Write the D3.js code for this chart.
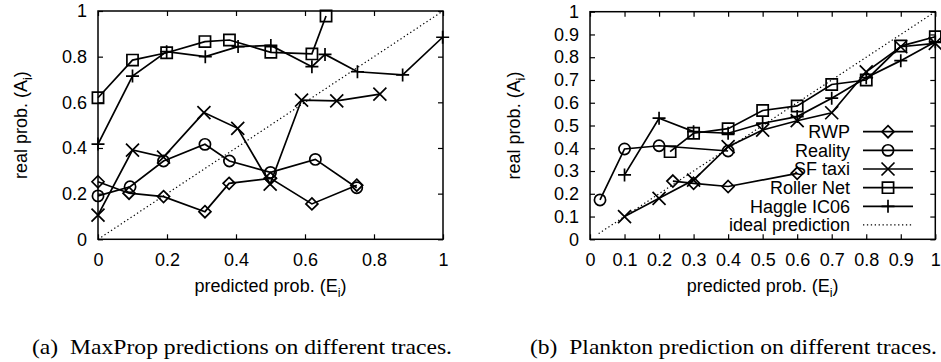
<!DOCTYPE html>
<html><head><meta charset="utf-8">
<script src="https://cdn.jsdelivr.net/npm/d3@7"></script>
<style>body{margin:0;background:#fff} svg{display:block}</style>
</head><body><svg id="c" width="941" height="362"></svg>
<script>
// ---------- data ----------
const seriesNames = ["RWP", "Reality", "SF taxi", "Roller Net", "Haggle IC06"];
const markerTypes = ["diamond", "circle", "cross", "square", "plus"];
const idealLabel = "ideal prediction";

// (a) MaxProp
const maxpropRWP_x     = [0, 0.09, 0.19, 0.31, 0.38, 0.50, 0.62, 0.75];
const maxpropRWP_y     = [0.252, 0.202, 0.187, 0.121, 0.245, 0.267, 0.155, 0.237];
const maxpropReality_x = [0, 0.093, 0.19, 0.31, 0.381, 0.50, 0.63, 0.75];
const maxpropReality_y = [0.19, 0.23, 0.343, 0.416, 0.343, 0.293, 0.35, 0.226];
const maxpropTaxi_x    = [0, 0.10, 0.19, 0.307, 0.405, 0.499, 0.59, 0.692, 0.817];
const maxpropTaxi_y    = [0.106, 0.391, 0.36, 0.555, 0.486, 0.242, 0.61, 0.606, 0.636];
const maxpropRoller_x  = [0, 0.10, 0.199, 0.31, 0.381, 0.501, 0.62, 0.661];
const maxpropRoller_y  = [0.62, 0.785, 0.817, 0.866, 0.873, 0.819, 0.812, 0.978];
const maxpropHaggle_x  = [0, 0.10, 0.199, 0.311, 0.406, 0.501, 0.62, 0.658, 0.752, 0.883, 0.999];
const maxpropHaggle_y  = [0.417, 0.715, 0.822, 0.80, 0.844, 0.849, 0.756, 0.81, 0.734, 0.72, 0.885];
const maxpropIdeal     = [0, 1];

// (b) Plankton
const planktonRWP_x     = [0.24, 0.30, 0.40, 0.60];
const planktonRWP_y     = [0.256, 0.246, 0.232, 0.29];
const planktonReality_x = [0.029, 0.10, 0.20, 0.40];
const planktonReality_y = [0.173, 0.397, 0.411, 0.388];
const planktonTaxi_x    = [0.10, 0.20, 0.30, 0.40, 0.50, 0.60, 0.70, 0.80, 0.90, 1.0];
const planktonTaxi_y    = [0.10, 0.18, 0.26, 0.407, 0.48, 0.521, 0.556, 0.736, 0.846, 0.861];
const planktonRoller_x  = [0.232, 0.30, 0.40, 0.50, 0.60, 0.70, 0.80, 0.90, 1.0];
const planktonRoller_y  = [0.385, 0.466, 0.486, 0.566, 0.586, 0.68, 0.70, 0.849, 0.89];
const planktonHaggle_x  = [0.10, 0.20, 0.30, 0.40, 0.50, 0.60, 0.70, 0.80, 0.90, 1.0];
const planktonHaggle_y  = [0.283, 0.532, 0.473, 0.466, 0.51, 0.539, 0.62, 0.71, 0.785, 0.868];
const planktonIdeal     = [0.025, 1];

// ticks
const maxpropTicks  = [0, 0.2, 0.4, 0.6, 0.8, 1];
const planktonTicks = [0, 0.1, 0.2, 0.3, 0.4, 0.5, 0.6, 0.7, 0.8, 0.9, 1];

const captionA = "(a)\u00a0\u00a0MaxProp predictions on different traces.";
const captionB = "(b)\u00a0\u00a0Plankton prediction on different traces.";
const xLabel = "predicted prob. (E";
const yLabel = "real prob. (A";

// ---------- drawing ----------
const svg = d3.select("#c");
const FONT = "'Liberation Sans', Arial, sans-serif";
const FS = 18;

function markerPath(type, s) {
  switch (type) {
    case "diamond": return `M0,${-s}L${s},0L0,${s}L${-s},0Z`;
    case "circle":  return `M${s},0A${s},${s} 0 1,1 ${-s},0A${s},${s} 0 1,1 ${s},0Z`;
    case "square":  return `M${-s},${-s}H${s}V${s}H${-s}Z`;
    case "cross":   return `M${-s},${-s}L${s},${s}M${-s},${s}L${s},${-s}`;
    case "plus":    return `M${-s},0H${s}M0,${-s}V${s}`;
  }
}
const markerSize = {diamond: 6, circle: 5.6, square: 5.6, cross: 6.5, plus: 6.5};
const SW = 1.7;

function panel(cfg) {
  const x = d3.scaleLinear().domain([0, 1]).range([cfg.x0, cfg.x1]);
  const y = d3.scaleLinear().domain([0, 1]).range([cfg.y0, cfg.y1]);
  const g = svg.append("g");
  const fmt = d => d3.format("")(d);

  // axes (inward ticks)
  const ax = g.append("g").attr("transform", `translate(0,${cfg.y0})`)
    .call(d3.axisBottom(x).tickValues(cfg.ticks).tickFormat(fmt).tickSizeInner(-5).tickSizeOuter(0).tickPadding(14));
  const ay = g.append("g").attr("transform", `translate(${cfg.x0},0)`)
    .call(d3.axisLeft(y).tickValues(cfg.ticks).tickFormat(fmt).tickSizeInner(-5).tickSizeOuter(0).tickPadding(11));
  const at = g.append("g").attr("transform", `translate(0,${cfg.y1})`)
    .call(d3.axisTop(x).tickValues(cfg.ticks).tickFormat("").tickSizeInner(-5).tickSizeOuter(0));
  const ar = g.append("g").attr("transform", `translate(${cfg.x1},0)`)
    .call(d3.axisRight(y).tickValues(cfg.ticks).tickFormat("").tickSizeInner(-5).tickSizeOuter(0));
  [ax, ay, at, ar].forEach(a => {
    a.select(".domain").remove();
    a.selectAll("line").attr("stroke", "#000").attr("stroke-width", 1.2);
    a.selectAll("text").attr("font-family", FONT).attr("font-size", FS).attr("fill", "#000");
  });
  // frame
  g.append("rect").attr("x", cfg.x0).attr("y", cfg.y1)
    .attr("width", cfg.x1 - cfg.x0).attr("height", cfg.y0 - cfg.y1)
    .attr("fill", "none").attr("stroke", "#000").attr("stroke-width", 1.5);

  // ideal
  g.append("path").attr("d", d3.line()(cfg.ideal.map(v => [x(v), y(v)])))
    .attr("stroke", "#000").attr("stroke-width", 1.2).attr("stroke-dasharray", "1.3,2.6").attr("fill", "none");

  // series
  cfg.series.forEach((s, i) => {
    const pts = s.x.map((v, k) => [x(v), y(s.y[k])]);
    g.append("path").attr("d", d3.line()(pts)).attr("fill", "none")
      .attr("stroke", "#000").attr("stroke-width", SW);
    const t = markerTypes[i];
    g.selectAll(null).data(pts).enter().append("path")
      .attr("transform", d => `translate(${d[0]},${d[1]})`)
      .attr("d", markerPath(t, markerSize[t]))
      .attr("fill", "none").attr("stroke", "#000").attr("stroke-width", SW);
  });

  // labels
  const xl = g.append("text").attr("x", (cfg.x0 + cfg.x1) / 2).attr("y", 292)
    .attr("text-anchor", "middle").attr("font-family", FONT).attr("font-size", FS);
  xl.append("tspan").text(xLabel);
  xl.append("tspan").attr("font-size", 12.5).attr("dy", 5).text("i");
  xl.append("tspan").attr("dy", -5).text(")");
  const yc = (cfg.y0 + cfg.y1) / 2;
  const yl = g.append("text").attr("transform", `translate(${cfg.ylx},${yc}) rotate(-90)`)
    .attr("text-anchor", "middle").attr("font-family", FONT).attr("font-size", FS);
  yl.append("tspan").text(yLabel);
  yl.append("tspan").attr("font-size", 12.5).attr("dy", 5).text("i");
  yl.append("tspan").attr("dy", -5).text(")");

  // caption
  svg.append("text").attr("x", cfg.capX).attr("y", 354)
    .attr("font-family", "'Liberation Serif', 'Times New Roman', serif").attr("font-size", 22)
    .attr("textLength", cfg.capW).attr("lengthAdjust", "spacingAndGlyphs")
    .text(cfg.caption);

  return {g, x, y};
}

panel({
  x0: 98, x1: 443, y0: 239.3, y1: 11, ticks: maxpropTicks, ideal: maxpropIdeal, ylx: 27,
  caption: captionA, capX: 32, capW: 420,
  series: [
    {x: maxpropRWP_x, y: maxpropRWP_y},
    {x: maxpropReality_x, y: maxpropReality_y},
    {x: maxpropTaxi_x, y: maxpropTaxi_y},
    {x: maxpropRoller_x, y: maxpropRoller_y},
    {x: maxpropHaggle_x, y: maxpropHaggle_y}
  ]
});

const pb = panel({
  x0: 590, x1: 935.3, y0: 239.3, y1: 11.7, ticks: planktonTicks, ideal: planktonIdeal, ylx: 520,
  caption: captionB, capX: 530, capW: 407,
  series: [
    {x: planktonRWP_x, y: planktonRWP_y},
    {x: planktonReality_x, y: planktonReality_y},
    {x: planktonTaxi_x, y: planktonTaxi_y},
    {x: planktonRoller_x, y: planktonRoller_y},
    {x: planktonHaggle_x, y: planktonHaggle_y}
  ]
});

// legend (panel b)
const legend = pb.g.append("g");
const labels = seriesNames.concat([idealLabel]);
labels.forEach((name, i) => {
  const cy = 131.7 + i * 18.65;
  legend.append("text").attr("x", 850).attr("y", cy).attr("dy", "0.36em")
    .attr("text-anchor", "end").attr("font-family", FONT).attr("font-size", FS).text(name);
  const ln = legend.append("line").attr("x1", 863).attr("x2", 913).attr("y1", cy).attr("y2", cy)
    .attr("stroke", "#000");
  if (i < seriesNames.length) {
    ln.attr("stroke-width", SW);
    const t = markerTypes[i];
    legend.append("path").attr("transform", `translate(888,${cy})`)
      .attr("d", markerPath(t, markerSize[t])).attr("fill", "none")
      .attr("stroke", "#000").attr("stroke-width", SW);
  } else {
    ln.attr("stroke-width", 1.2).attr("stroke-dasharray", "1.3,2.6");
  }
});
</script></body></html>
